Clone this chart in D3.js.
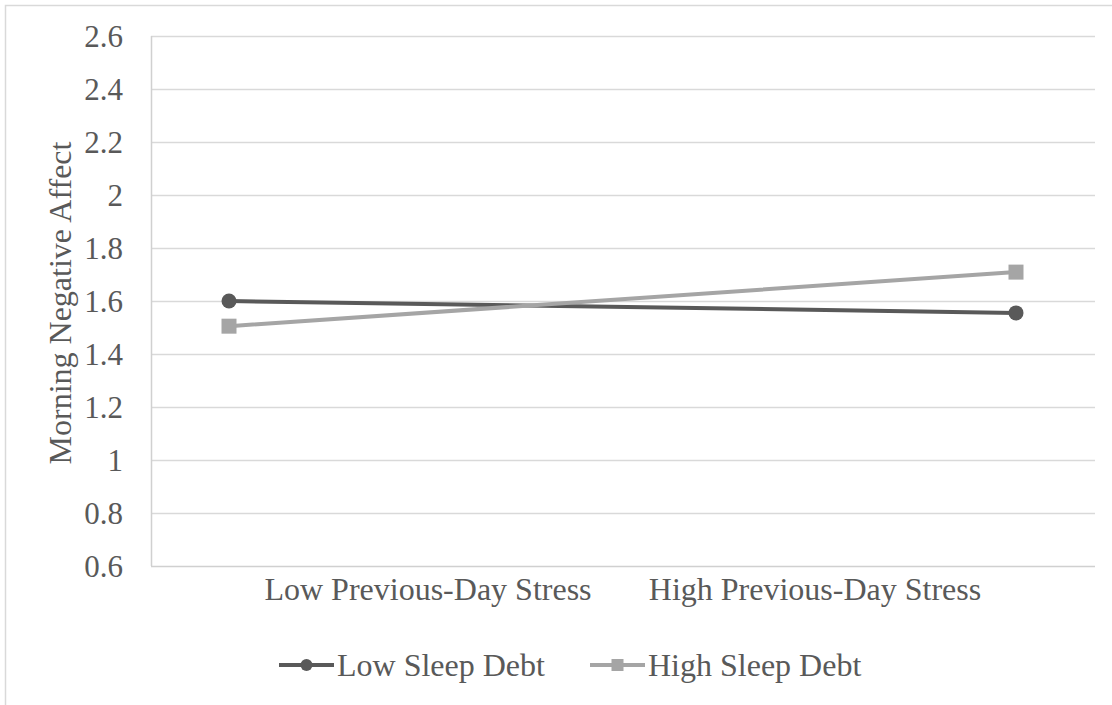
<!DOCTYPE html>
<html>
<head>
<meta charset="utf-8">
<script src="https://cdn.jsdelivr.net/npm/d3@7/dist/d3.min.js"></script>
<style>
  html, body { margin: 0; padding: 0; background: #fff; }
  svg { display: block; }
  text { font-family: "Liberation Serif", "Times New Roman", serif; fill: #595959; }
</style>
</head>
<body>
<svg id="chart" width="1112" height="705"></svg>
<script>
// Data
const categories = ["Low Previous-Day Stress", "High Previous-Day Stress"];
const seriesNames = ["Low Sleep Debt", "High Sleep Debt"];
const lowSleepDebt = [1.6, 1.555];
const highSleepDebt = [1.505, 1.709];
const yTicks = [0.6, 0.8, 1, 1.2, 1.4, 1.6, 1.8, 2, 2.2, 2.4, 2.6];
const yTitle = "Morning Negative Affect";

const series = [
  { name: seriesNames[0], values: lowSleepDebt, color: "#595959", marker: "circle" },
  { name: seriesNames[1], values: highSleepDebt, color: "#a5a5a5", marker: "square" }
];

const W = 1112, H = 705;
const plot = { left: 151, right: 1095, top: 36, bottom: 566 };

const svg = d3.select("#chart");

// outer chart frame
svg.append("rect")
  .attr("x", 5.5).attr("y", 5.5)
  .attr("width", W + 10).attr("height", H + 10)
  .attr("fill", "none").attr("stroke", "#d9d9d9").attr("stroke-width", 1.5);

const y = d3.scaleLinear().domain([0.6, 2.6]).range([plot.bottom, plot.top]);
// marker positions sit inside the plot edges
const x = d3.scalePoint().domain(categories)
  .range([plot.left + 78, plot.right - 79]);
// category labels are placed closer to the centre
const xLabel = d3.scalePoint().domain(categories)
  .range([plot.left + 277, plot.right - 280]);

// horizontal gridlines
svg.append("g").selectAll("line")
  .data(yTicks.slice(1))
  .join("line")
  .attr("x1", plot.left).attr("x2", plot.right)
  .attr("y1", d => Math.round(y(d)) + 0.5).attr("y2", d => Math.round(y(d)) + 0.5)
  .attr("stroke", "#d9d9d9").attr("stroke-width", 1.5);

// axes lines
svg.append("line")
  .attr("x1", plot.left).attr("x2", plot.right)
  .attr("y1", plot.bottom + 0.5).attr("y2", plot.bottom + 0.5)
  .attr("stroke", "#d0d0d0").attr("stroke-width", 1.5);
svg.append("line")
  .attr("x1", plot.left + 0.5).attr("x2", plot.left + 0.5)
  .attr("y1", plot.top).attr("y2", plot.bottom)
  .attr("stroke", "#d0d0d0").attr("stroke-width", 1.5);

// y tick labels
svg.append("g").selectAll("text")
  .data(yTicks)
  .join("text")
  .attr("x", 123)
  .attr("y", d => y(d) + 11)
  .attr("text-anchor", "end")
  .attr("font-size", 31)
  .text(d => d3.format("")(d));

// category labels
svg.append("g").selectAll("text")
  .data(categories)
  .join("text")
  .attr("x", d => xLabel(d))
  .attr("y", 600)
  .attr("text-anchor", "middle")
  .attr("font-size", 32)
  .text(d => d);

// y axis title
svg.append("text")
  .attr("transform", `translate(71, ${(139 + 467) / 2}) rotate(-90)`)
  .attr("text-anchor", "middle")
  .attr("font-size", 32)
  .text(yTitle);

// lines
const line = d3.line()
  .x((d, i) => x(categories[i]))
  .y(d => y(d));

series.forEach(s => {
  svg.append("path")
    .datum(s.values)
    .attr("d", line)
    .attr("fill", "none")
    .attr("stroke", s.color)
    .attr("stroke-width", 4)
    .attr("stroke-linecap", "round");
});

// markers
function drawMarker(g, type, cx, cy, size, color) {
  if (type === "circle") {
    g.append("circle").attr("cx", cx).attr("cy", cy).attr("r", size / 2).attr("fill", color);
  } else {
    g.append("rect").attr("x", cx - size / 2).attr("y", cy - size / 2)
      .attr("width", size).attr("height", size).attr("fill", color);
  }
}
series.forEach(s => {
  const g = svg.append("g");
  s.values.forEach((v, i) => drawMarker(g, s.marker, x(categories[i]), y(v), 15, s.color));
});

// legend
const legendItems = [
  { s: series[0], x0: 279 },
  { s: series[1], x0: 590 }
];
const legendY = 665;
legendItems.forEach(({ s, x0 }) => {
  const g = svg.append("g");
  g.append("line")
    .attr("x1", x0).attr("x2", x0 + 55)
    .attr("y1", legendY).attr("y2", legendY)
    .attr("stroke", s.color).attr("stroke-width", 4);
  drawMarker(g, s.marker, x0 + 27.5, legendY, 12, s.color);
  g.append("text")
    .attr("x", x0 + 58)
    .attr("y", legendY + 11)
    .attr("font-size", 32)
    .text(s.name);
});
</script>
</body>
</html>
